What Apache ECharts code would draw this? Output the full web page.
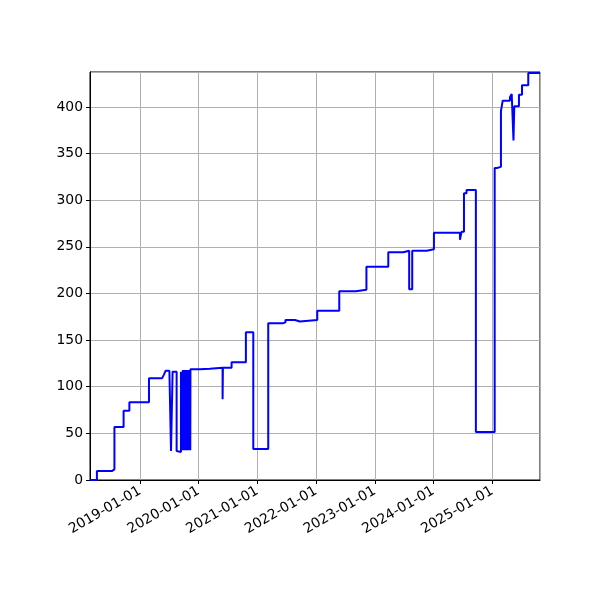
<!DOCTYPE html>
<html>
<head>
<meta charset="utf-8">
<script src="https://cdn.jsdelivr.net/npm/echarts@6/dist/echarts.min.js"></script>
<style>
html,body{margin:0;padding:0;background:#fff;}
#chart{width:600px;height:600px;}
</style>
</head>
<body>
<div id="chart"></div>
<script>
// Dates at which the value changes (value holds until the next date)
const dates = [
  '2018-02-24','2018-04-08','2018-07-10','2018-07-26','2018-09-21','2018-10-27',
  '2019-02-26','2019-05-18','2019-05-30','2019-06-10','2019-07-03','2019-07-13',
  '2019-07-23','2019-08-17','2019-08-28','2019-09-13','2019-09-19',
  '2019-09-23','2019-09-25','2019-09-27','2019-09-29','2019-10-01','2019-10-03',
  '2019-10-05','2019-10-07','2019-10-09','2019-10-11','2019-10-13','2019-10-15',
  '2019-10-17','2019-10-19','2019-10-21','2019-10-23','2019-10-25','2019-10-27',
  '2019-10-29','2019-10-31','2019-11-02','2019-11-04','2019-11-06','2019-11-08',
  '2019-11-10','2019-11-11',
  '2020-01-09','2020-03-11','2020-05-29','2020-05-31','2020-07-24','2020-10-21',
  '2020-12-06','2021-03-09','2021-06-07','2021-06-24','2021-08-22','2021-09-22',
  '2022-01-08','2022-05-25','2022-09-06','2022-11-10','2023-03-26','2023-06-27',
  '2023-08-03','2023-08-22','2023-11-20','2024-01-04','2024-06-14','2024-06-24',
  '2024-07-09','2024-07-25','2024-09-21','2025-01-16','2025-01-30','2025-02-24',
  '2025-03-07','2025-04-21','2025-05-02','2025-05-13','2025-05-18','2025-06-16',
  '2025-07-05','2025-08-13','2025-10-25'
];
const values = [
  0, 9.6, 11.4, 56.8, 74.2, 83.3,
  109, 109, 113, 117.2, 116.2, 31,
  116.2, 31, 30, 116, 118,
  32, 118, 32, 118, 32, 118,
  32, 118, 32, 118, 32, 118,
  32, 118, 32, 118, 32, 118,
  32, 118, 32, 118, 32, 118,
  32, 118.7,
  119.4, 120.4, 86.5, 120.4, 126.3, 158.4,
  33.2, 168, 169, 171.6, 170, 171.6,
  181.6, 202.3, 204.1, 228.8, 244.2, 245.9,
  204.5, 245.9, 247.4, 265.2, 257.5, 266.3,
  307.4, 311, 51.5, 334.6, 335.8, 395.5,
  406.8, 410.4, 414, 364, 400.7, 413.2,
  423.2, 436.5, 436.5
];
const yTicks = [0, 50, 100, 150, 200, 250, 300, 350, 400];
const xStart = '2018-02-24';
const xEnd = '2025-10-25';

const chart = echarts.init(document.getElementById('chart'));
const font = 'DejaVu Sans';
chart.setOption({
  animation: false,
  backgroundColor: '#ffffff',
  grid: {left: 90, right: 60, top: 72, bottom: 120, show: true, borderColor: '#000', borderWidth: 1, backgroundColor: 'transparent'},
  xAxis: {
    type: 'time',
    min: +new Date(xStart),
    max: +new Date(xEnd),
    minInterval: 365 * 86400000,
    maxInterval: 366 * 86400000,
    axisLine: {lineStyle: {color: '#000', width: 1}},
    axisTick: {show: true, inside: false, length: 4, lineStyle: {color: '#000', width: 1}},
    splitLine: {show: true, lineStyle: {color: '#b0b0b0', width: 1}},
    axisLabel: {
      rotate: 30, color: '#000', fontFamily: font, fontSize: 13.9, margin: 10,
      showMinLabel: false, showMaxLabel: false,
      formatter: function (v) { return echarts.time.format(v, '{yyyy}-{MM}-{dd}', false); }
    }
  },
  yAxis: {
    type: 'value',
    min: 0,
    max: 437.5,
    interval: 50,
    axisLine: {show: true, lineStyle: {color: '#000', width: 1}},
    axisTick: {show: true, inside: false, length: 4, lineStyle: {color: '#000', width: 1}},
    splitLine: {show: true, lineStyle: {color: '#b0b0b0', width: 1}},
    axisLabel: {color: '#000', fontFamily: font, fontSize: 13.9, margin: 7,
      showMaxLabel: false,
      formatter: function (v) { return yTicks.indexOf(v) >= 0 ? String(v) : ''; }}
  },
  series: [{
    type: 'line',
    step: 'end',
    showSymbol: false,
    data: dates.map((d, i) => [d, values[i]]),
    lineStyle: {color: '#0000ff', width: 2},
    itemStyle: {color: '#0000ff'}
  }]
});
</script>
</body>
</html>
